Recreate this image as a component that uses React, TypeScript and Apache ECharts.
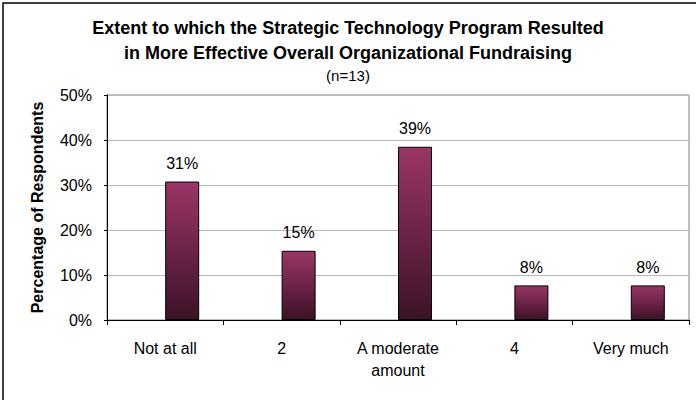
import React, { useEffect, useRef } from "react";
import * as echarts from "echarts";

const titleLines = [
  "Extent to which the Strategic Technology Program Resulted",
  "in More Effective Overall Organizational Fundraising",
];
const subtitle = "(n=13)";
const categories = ["Not at all", "2", "A moderate\namount", "4", "Very much"];
// percentage of respondents
const values = [30.77, 15.38, 38.5, 7.69, 7.69];
const yAxisName = "Percentage of Respondents";
const yMin = 0;
const yMax = 50;
const yStep = 10;

const FONT = "'Liberation Sans', Arial, sans-serif";

export default function App() {
  const ref = useRef<HTMLDivElement>(null);
  useEffect(() => {
    document.body.style.margin = "0";
    const chart = echarts.init(ref.current!, null, { renderer: "svg" });
    const emptySlot = categories.map(() => "-");
    chart.setOption({
      animation: false,
      backgroundColor: "#ffffff",
      textStyle: { fontFamily: FONT },
      title: {
        text: titleLines.join("\n"),
        subtext: subtitle,
        left: "center",
        top: 15,
        padding: 0,
        itemGap: 2,
        textStyle: {
          fontFamily: FONT,
          fontWeight: "bold",
          fontSize: 18,
          lineHeight: 25,
          color: "#000",
        },
        subtextStyle: {
          fontFamily: FONT,
          fontSize: 15,
          lineHeight: 16,
          color: "#000",
        },
      },
      graphic: [
        {
          type: "rect",
          shape: { x: 3, y: 3, width: 720, height: 420 },
          style: { fill: "none", stroke: "#000", lineWidth: 1.5 },
          silent: true,
          z: 100,
        },
      ],
      grid: {
        left: 107,
        top: 95,
        right: 7,
        bottom: 80,
        show: true,
        borderColor: "#808080",
        borderWidth: 1,
        containLabel: false,
      },
      xAxis: {
        type: "category",
        data: categories,
        axisLine: { show: true, lineStyle: { color: "#000", width: 1 } },
        axisTick: { show: true, length: 5, alignWithLabel: false, lineStyle: { color: "#000" } },
        axisLabel: {
          color: "#000",
          fontFamily: FONT,
          fontSize: 16,
          lineHeight: 22,
          margin: 17,
          interval: 0,
        },
        splitLine: { show: false },
      },
      yAxis: {
        type: "value",
        min: yMin,
        max: yMax,
        interval: yStep,
        name: yAxisName,
        nameLocation: "middle",
        nameGap: 62,
        nameTextStyle: {
          fontFamily: FONT,
          fontWeight: "bold",
          fontSize: 16,
          color: "#000",
        },
        axisLine: { show: true, lineStyle: { color: "#000", width: 1 } },
        axisTick: { show: true, length: 3, lineStyle: { color: "#000" } },
        axisLabel: {
          color: "#000",
          fontFamily: FONT,
          fontSize: 16,
          margin: 15,
          formatter: (v: number) => v + "%",
        },
        splitLine: { show: true, lineStyle: { color: "#b8b8b8", width: 1 } },
      },
      series: [
        {
          type: "bar",
          data: emptySlot,
          barWidth: 34,
          barGap: "0%",
          silent: true,
        },
        {
          type: "bar",
          data: values,
          barWidth: 34,
          barGap: "0%",
          itemStyle: {
            color: new echarts.graphic.LinearGradient(0, 0, 0, 1, [
              { offset: 0, color: "#9b3566" },
              { offset: 1, color: "#3c1228" },
            ]),
            borderColor: "#000",
            borderWidth: 1,
          },
          label: {
            show: true,
            position: "top",
            distance: 10,
            color: "#000",
            fontFamily: FONT,
            fontSize: 16,
            formatter: (p: any) => Math.round(p.value) + "%",
          },
        },
      ],
    });
    return () => chart.dispose();
  }, []);
  return <div ref={ref} style={{ width: 696, height: 400 }} />;
}
